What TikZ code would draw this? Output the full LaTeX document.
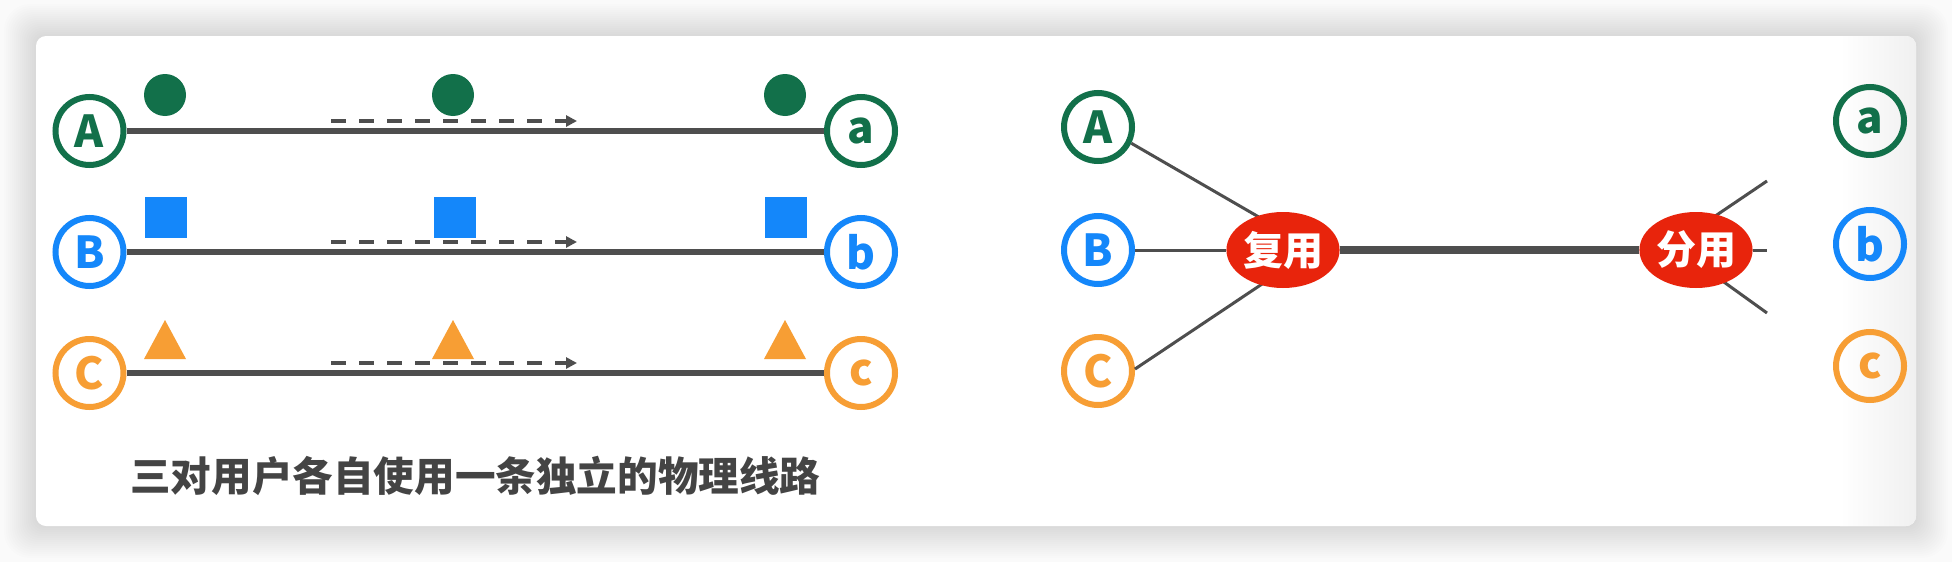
\documentclass[tikz,border=0pt]{standalone}
\usepackage{fontspec}
\newfontfamily\cjk{Noto Sans CJK SC}
\usetikzlibrary{arrows.meta,shapes.geometric}
\definecolor{cgreen}{RGB}{18,112,74}
\definecolor{cblue}{RGB}{20,135,250}
\definecolor{corange}{RGB}{247,158,52}
\definecolor{cred}{RGB}{232,36,12}
\definecolor{lgray}{RGB}{78,78,78}
\definecolor{ctext}{RGB}{68,68,68}
\definecolor{bggray}{RGB}{250,250,250}
\begin{document}
\begin{tikzpicture}[x=1pt,y=-1pt,
  ring/.style={circle, draw, line width=6pt, minimum size=68pt, inner sep=0pt,
    font=\cjk\bfseries\fontsize{44}{44}\selectfont},
  wire/.style={line width=6pt, draw=lgray},
  thinwire/.style={line width=3pt, draw=lgray},
  trunk/.style={line width=8pt, draw=lgray},
  dasharrow/.style={line width=4pt, draw=lgray, dash pattern=on 15pt off 13pt,
    -{Triangle[length=11pt,width=11pt]}},
  dotsym/.style={circle, fill=cgreen, minimum size=42pt, inner sep=0pt},
  sqsym/.style={rectangle, fill=cblue, minimum width=42pt, minimum height=41pt, inner sep=0pt},
  blob/.style={ellipse, fill=cred, minimum width=108pt, minimum height=76pt, inner sep=0pt,
    text=white, font=\cjk\bfseries\fontsize{40}{40}\selectfont}
]
\useasboundingbox (0,0) rectangle (1952,562);
\fill[bggray] (0,0) rectangle (1952,562);
% card shadow
\foreach \i in {1,...,16}{
  \pgfmathsetmacro\rr{10+\i}
  \fill[black, opacity=0.007, rounded corners=\rr pt]
    ({36-2*\i},{36-2*\i}) rectangle ({1916+2*\i},{526+2*\i});
}
% card
\fill[white, rounded corners=10pt] (36,36) rectangle (1916,526);
\begin{scope}
  \clip[rounded corners=10pt] (36,36) rectangle (1916,526);
  \shade[left color=white, right color={rgb,255:red,240;green,240;blue,240}]
    (1840,36) rectangle (1916,526);
\end{scope}

% ===== left part =====
\node[ring, draw=cgreen, text=cgreen] (A) at (89.5,131) {A};
\node[ring, draw=cblue, text=cblue] (B) at (89.5,252) {B};
\node[ring, draw=corange, text=corange] (C) at (89.5,373) {C};
\node[ring, draw=cgreen, text=cgreen] (a) at (861,131) {a};
\node[ring, draw=cblue, text=cblue] (b) at (861,252) {b};
\node[ring, draw=corange, text=corange] (c) at (861,373) {c};

\draw[wire] (A) -- (a);
\draw[wire] (B) -- (b);
\draw[wire] (C) -- (c);

\coordinate (ds1) at (331,121); \coordinate (de1) at (577,121);
\coordinate (ds2) at (331,242); \coordinate (de2) at (577,242);
\coordinate (ds3) at (331,363); \coordinate (de3) at (577,363);
\draw[dasharrow] (ds1) -- (de1);
\draw[dasharrow] (ds2) -- (de2);
\draw[dasharrow] (ds3) -- (de3);

\node[dotsym] (d1) at (165,95) {};
\node[dotsym] (d2) at (453,95) {};
\node[dotsym] (d3) at (785,95) {};
\node[sqsym] (s1) at (166,217) {};
\node[sqsym] (s2) at (455,217) {};
\node[sqsym] (s3) at (786,217) {};
\foreach \x in {165,453,785}{
  \fill[corange] ({\x-21},359) -- (\x,320) -- ({\x+21},359) -- cycle;
}

\node[anchor=west, text=ctext, inner sep=0pt,
  font=\cjk\bfseries\fontsize{40.6}{44}\selectfont] (cap) at (130,476)
  {三对用户各自使用一条独立的物理线路};

% ===== right part =====
\node[ring, draw=cgreen, text=cgreen] (A2) at (1098,127) {A};
\node[ring, draw=cblue, text=cblue] (B2) at (1098,250) {B};
\node[ring, draw=corange, text=corange] (C2) at (1098,371) {C};
\node[ring, draw=cgreen, text=cgreen] (a2) at (1870,121) {a};
\node[ring, draw=cblue, text=cblue] (b2) at (1870,244) {b};
\node[ring, draw=corange, text=corange] (c2) at (1870,366) {c};

\coordinate (muxA) at (1283,231);
\coordinate (muxC) at (1283,270);
\coordinate (dm1) at (1696,229);
\coordinate (dm3) at (1696,262);
\coordinate (o1) at (1767,181);
\coordinate (o2) at (1767,250);
\coordinate (o3) at (1767,313);

\draw[thinwire] (A2.-26) -- (muxA);
\draw[thinwire] (C2.3) -- (muxC);
\draw[thinwire] (dm1) -- (o1);
\draw[thinwire] (dm3) -- (o3);

\node[blob] (mux) at (1283,250) {复用};
\node[blob] (demux) at (1696,250) {分用};

\draw[thinwire] (B2) -- (mux);
\draw[thinwire] (demux) -- (o2);
\draw[trunk] (mux) -- (demux);
\end{tikzpicture}
\end{document}
